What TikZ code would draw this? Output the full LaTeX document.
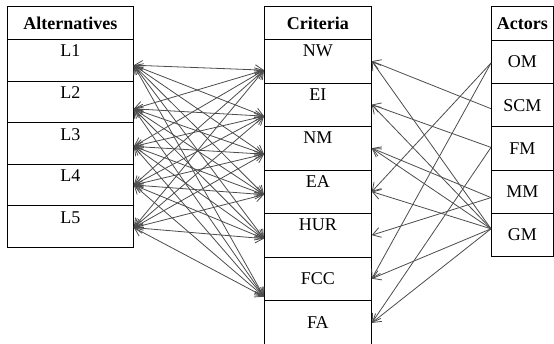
\documentclass[tikz,border=0pt]{standalone}
\usepackage{fontspec}
\setmainfont{Liberation Serif}
\usetikzlibrary{arrows.meta,positioning}

\tikzset{
	cell/.style={draw, line width=0.8pt, minimum width=#1, inner sep=0pt, anchor=north west},
	link/.style={draw=black!70, line width=0.8pt},
	>={Straight Barb[length=8pt,width=10pt]}
}

\begin{document}
\begin{tikzpicture}[x=1pt, y=-1pt, font=\fontsize{18}{21}\selectfont]
		\useasboundingbox (0,0) rectangle (554,343);

		% Draw alternatives
		\node[cell=126pt, minimum height=33pt] (alt) at (7,6) {\textbf{Alternatives}};
		\foreach \n [count=\k] in {L1,L2,L3,L4,L5} {
			\node[cell=126pt, minimum height=41.6pt] (\n) at (7,{39+41.6*(\k-1)}) {};
			\node[below=2.5pt of \n.north] (\n-t) {\n};
		}

		% Draw criteria
		\node[cell=107pt, minimum height=33pt] (crit) at (264,6) {\textbf{Criteria}};
		\foreach \n [count=\k] in {NW,EI,NM,EA,HUR} {
			\node[cell=107pt, minimum height=43.5pt] (\n) at (264,{39+43.5*(\k-1)}) {};
			\node[below=2.5pt of \n.north] (\n-t) {\n};
		}
		\node[cell=107pt, minimum height=43.5pt] (FCC) at (264,256.5) {FCC};
		\node[cell=107pt, minimum height=45pt] (FA) at (264,300) {FA};

		% Draw actors
		\node[cell=62pt, minimum height=34pt] (act) at (491,6) {\textbf{Actors}};
		\foreach \n [count=\k] in {OM,SCM,FM,MM,GM}
		\node[cell=62pt, minimum height=43.2pt] (\n) at (491,{40+43.2*(\k-1)}) {\n};

		% Connector ends
		\foreach \n/\d in {L1/5,L2/7,L3/3,L4/0,L5/1}
		\coordinate (\n-p) at ([yshift=-\d pt]\n.east);
		\foreach \n/\d in {NW/9,EI/11.5,NM/6,EA/3,HUR/3.5,FCC/18}
		\coordinate (\n-w) at ([yshift=-\d pt]\n.west);
		\foreach \n/\d in {OM/1,SCM/3.5,FM/-1,MM/6,GM/-6}
		\coordinate (\n-p) at ([yshift=-\d pt]\n.west);

		% Alternatives <-> criteria
		\foreach \a in {L1,L2,L3,L4,L5}
		\foreach \c in {NW,EI,NM,EA,HUR,FCC}
		\draw[link, <->] (\a-p) -- (\c-w);

		% Actors -> criteria
		\foreach \s/\t in {SCM/NW,GM/NW,FM/EI,GM/EI,MM/NM,GM/NM,OM/EA,GM/EA,MM/HUR,OM/FCC,GM/FCC,FM/FA,GM/FA}
		\draw[link, ->] (\s-p) -- (\t.east);
	\end{tikzpicture}
\end{document}
